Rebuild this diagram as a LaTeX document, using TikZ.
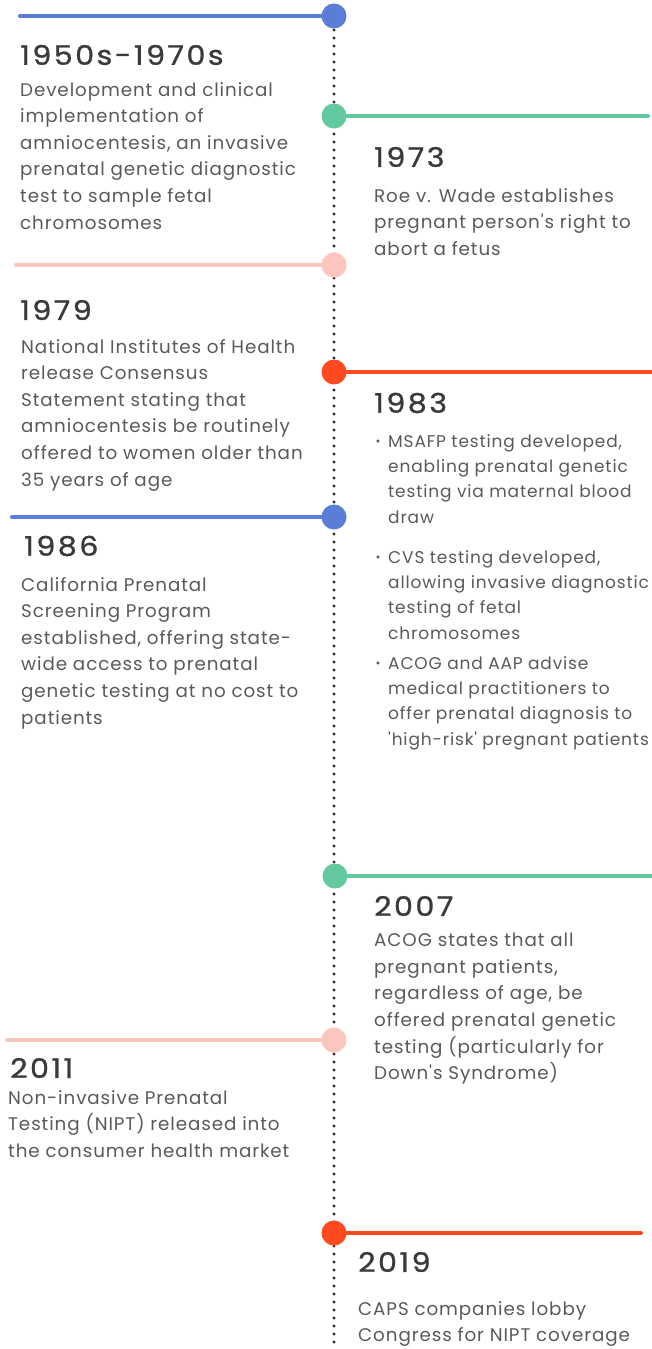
\documentclass[tikz,border=0pt]{standalone}
\usepackage{fontspec}
\setmainfont{Poppins}[LetterSpace=5,Ligatures=TeXOff]
\newfontfamily\headfont{Poppins}[FakeBold=1,FakeStretch=1.12,LetterSpace=9]
\definecolor{tlblue}{HTML}{5A7ED8}
\definecolor{tlgreen}{HTML}{62C9A0}
\definecolor{tlpink}{HTML}{FCC6BE}
\definecolor{tlred}{HTML}{FF4A1F}
\definecolor{headgray}{HTML}{3A3A3A}
\definecolor{bodygray}{HTML}{5A5A5A}
\definecolor{dotgray}{HTML}{2A2A2A}
\tikzset{
  dotc/.style={circle, fill=#1, minimum size=25pt, inner sep=0pt},
  arm/.style={draw=#1, line width=4pt, line cap=round},
  head/.style={anchor=west, inner sep=0pt, text=headgray, font={\headfont\fontsize{27}{30}\selectfont}},
  body/.style={anchor=north west, inner sep=0pt, align=left, text=bodygray, font={\fontsize{18.3}{26.6}\selectfont}},
  bbody/.style={anchor=north west, inner sep=0pt, align=left, text=bodygray, font={\fontsize{17.0}{25.4}\selectfont}},
  bul/.style={inner sep=0pt, text=bodygray, font={\fontsize{12}{12}\selectfont}},
  spine/.style={draw=dotgray, line width=3.4pt, line cap=round, dash pattern=on 0pt off 8pt}
}
\begin{document}
\begin{tikzpicture}[x=1pt,y=-1pt]
\fill[white] (0,0) rectangle (651,1349);
\useasboundingbox (0,0) rectangle (651,1349);
% spine
\coordinate (top) at (334,30);
\coordinate (bot) at (334,1349);
\draw[spine] (top) -- (bot);
% arms
\coordinate (e1) at (20,16);
\coordinate (e2) at (648,116);
\coordinate (e3) at (16,265);
\coordinate (e4) at (655,372);
\coordinate (e5) at (12,517);
\coordinate (e6) at (655,876);
\coordinate (e7) at (7,1040);
\coordinate (e8) at (641,1233);
\node[dotc=tlblue] (d1) at (334,16) {};
\node[dotc=tlgreen] (d2) at (334,116) {};
\node[dotc=tlpink] (d3) at (334,265) {};
\node[dotc=tlred] (d4) at (334,372) {};
\node[dotc=tlblue] (d5) at (334,517) {};
\node[dotc=tlgreen] (d6) at (335,876) {};
\node[dotc=tlpink] (d7) at (334,1040) {};
\node[dotc=tlred] (d8) at (334,1233) {};
\draw[arm=tlblue] (e1) -- (d1);
\draw[arm=tlgreen] (d2) -- (e2);
\draw[arm=tlpink] (e3) -- (d3);
\draw[arm=tlred] (d4) -- (e4);
\draw[arm=tlblue] (e5) -- (d5);
\draw[arm=tlgreen] (d6) -- (e6);
\draw[arm=tlpink] (e7) -- (d7);
\draw[arm=tlred] (d8) -- (e8);
% 1950s-1970s
\node[head] (h1) at (20,55) {1950s-1970s};
\node[body] (b1) at (20,82) {Development and clinical\\implementation of\\amniocentesis, an invasive\\prenatal genetic diagnostic\\test to sample fetal\\chromosomes};
% 1973
\node[head] (h2) at (374,157) {1973};
\node[body] (b2) at (374,188) {Roe v. Wade establishes\\pregnant person's right to\\abort a fetus};
% 1979
\node[head] (h3) at (20,310) {1979};
\node[body] (b3) at (21,339) {National Institutes of Health\\release Consensus\\Statement stating that\\amniocentesis be routinely\\offered to women older than\\35 years of age};
% 1983
\node[head] (h4) at (374,403) {1983};
\node[bul] (u1) at (378,443) {•};
\node[bbody] (c1) at (388,434) {MSAFP testing developed,\\enabling prenatal genetic\\testing via maternal blood\\draw};
\node[bul] (u2) at (378,559) {•};
\node[bbody] (c2) at (388,550) {CVS testing developed,\\allowing invasive diagnostic\\testing of fetal\\chromosomes};
\node[bul] (u3) at (378,665) {•};
\node[bbody] (c3) at (388,656) {ACOG and AAP advise\\medical practitioners to\\offer prenatal diagnosis to\\'high-risk' pregnant patients};
% 1986
\node[head] (h5) at (24,546) {1986};
\node[body] (b5) at (21,577) {California Prenatal\\Screening Program\\established, offering state-\\wide access to prenatal\\genetic testing at no cost to\\patients};
% 2007
\node[head] (h6) at (374,906) {2007};
\node[body] (b6) at (374,933) {ACOG states that all\\pregnant patients,\\regardless of age, be\\offered prenatal genetic\\testing (particularly for\\Down's Syndrome)};
% 2011
\node[head] (h7) at (10,1068) {2011};
\node[body] (b7) at (8,1090) {Non-invasive Prenatal\\Testing (NIPT) released into\\the consumer health market};
% 2019
\node[head] (h8) at (358,1262) {2019};
\node[body] (b8) at (358,1301) {CAPS companies lobby\\Congress for NIPT coverage};
\end{tikzpicture}
\end{document}
